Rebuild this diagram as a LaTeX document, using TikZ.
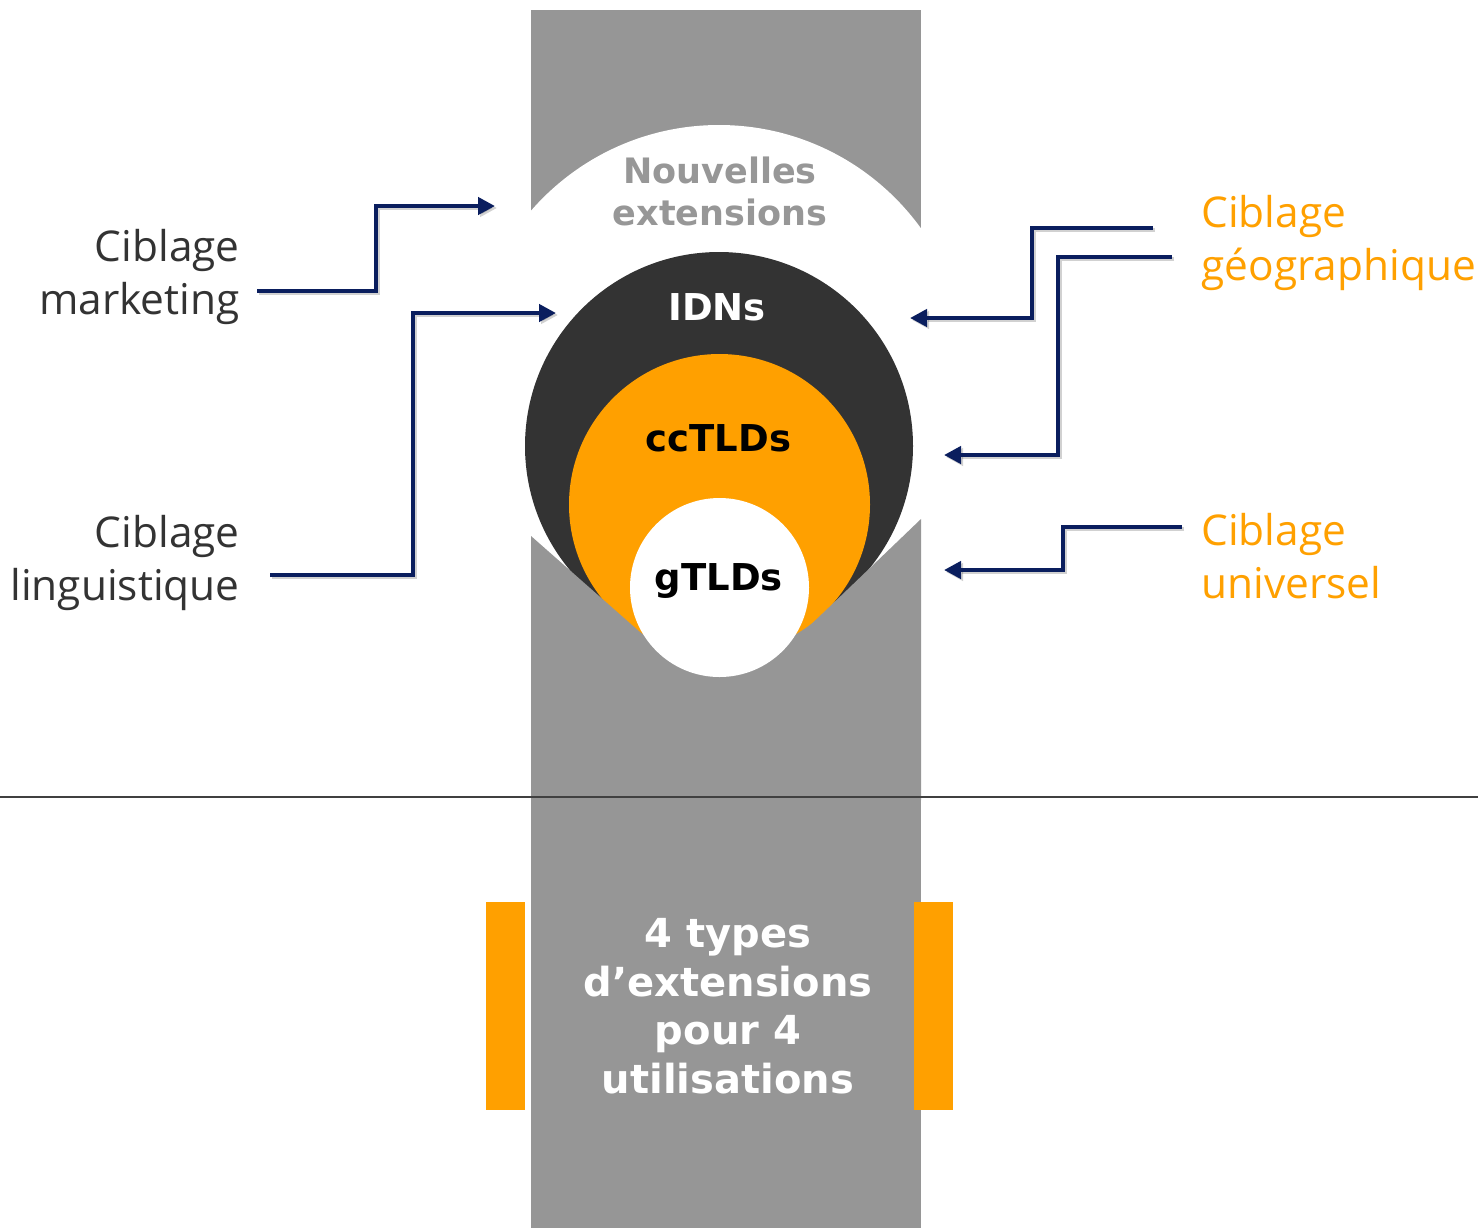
\documentclass[tikz,border=0pt]{standalone}
\usepackage{fontspec}
\setmainfont{Open Sans}
\newfontfamily\heavyfont{DejaVu Sans}
\usetikzlibrary{arrows.meta}

\definecolor{stripgray}{HTML}{969696}
\definecolor{ringdark}{HTML}{333333}
\definecolor{tldorange}{HTML}{FFA000}
\definecolor{navy}{HTML}{0A1E5E}
\definecolor{labelgray}{HTML}{333333}
\definecolor{softgray}{HTML}{979797}
\definecolor{rulegray}{HTML}{404040}

\tikzset{
  lbl/.style={inner sep=0pt, font=\fontsize{21.2}{26.5}\selectfont},
  leftlbl/.style={lbl, text=labelgray, align=right},
  rightlbl/.style={lbl, text=tldorange, align=left},
  heavy/.style={inner sep=0pt, font=\heavyfont\bfseries\fontsize{#1}{21}\selectfont},
  arr/.style={draw=navy, line width=2.3pt, line join=miter,
    -{Triangle[length=8.5pt,width=8.5pt]},
    preaction={draw=black, opacity=0.18, line width=2.3pt,
      transform canvas={shift={(1pt,-1pt)}}}},
  bar/.style={fill=tldorange, draw=none}
}

\begin{document}
\begin{tikzpicture}[x=0.5pt,y=-0.5pt]
\useasboundingbox (0,0) rectangle (1478,1228);

% vertical gray band
\fill[stripgray] (531,10) rectangle (921,1228);

% nested circles
\fill[white] (719,374) circle (249);
\fill[ringdark] (719,446) circle (194);
\fill[tldorange] (719.5,504.5) circle (150.5);
% lower part of the band cutting the rings
\fill[stripgray] (531,536) -- (725,707) -- (921,519) -- (921,800) -- (531,800) -- cycle;
\fill[white] (719.5,587.5) circle (89.5);

% circle labels (base anchor = last line)
\node[heavy=17.5, text=softgray, align=center, anchor=base] (nouv) at (720,225)
  {Nouvelles\\extensions};
\node[heavy=18.5, text=white, anchor=base] (idn) at (717,320) {IDNs};
\node[heavy=18.5, text=black, anchor=base] (cc) at (718.5,451) {ccTLDs};
\node[heavy=18.5, text=black, anchor=base] (g) at (719,590) {gTLDs};

% separator
\draw[rulegray, line width=1pt] (0,797) -- (1478,797);

% side labels
\node[leftlbl, anchor=base east] (mk) at (240,314) {Ciblage\\marketing};
\node[leftlbl, anchor=base east] (ling) at (240,600) {Ciblage\\linguistique};
\node[rightlbl, anchor=base west] (geo) at (1201,280) {Ciblage\\géographique};
\node[rightlbl, anchor=base west] (univ) at (1201,598) {Ciblage\\universel};

% arrow end points
\coordinate (mkS) at (257,291);   \coordinate (mkE) at (495,206);
\coordinate (liS) at (270,575);   \coordinate (liE) at (556,313);
\coordinate (gaS) at (1153,228);  \coordinate (gaE) at (910,318);
\coordinate (gbS) at (1172,257);  \coordinate (gbE) at (944,455);
\coordinate (unS) at (1182,527);  \coordinate (unE) at (944,570);

\draw[arr] (mkS) -- ++(119,0) |- (mkE);
\draw[arr] (liS) -- ++(143,0) |- (liE);
\draw[arr] (gaS) -- ++(-121,0) |- (gaE);
\draw[arr] (gbS) -- ++(-114,0) |- (gbE);
\draw[arr] (unS) -- ++(-119,0) |- (unE);

% bottom caption with orange side bars
\fill[bar] (486,902) rectangle (525,1110);
\fill[bar] (914,902) rectangle (953,1110);
\node[text=white, align=center, anchor=base, inner sep=0pt,
      font=\heavyfont\bfseries\fontsize{20}{24.2}\selectfont] (cap) at (728,1093)
  {4 types\\d’extensions\\pour 4\\utilisations};
\end{tikzpicture}
\end{document}
